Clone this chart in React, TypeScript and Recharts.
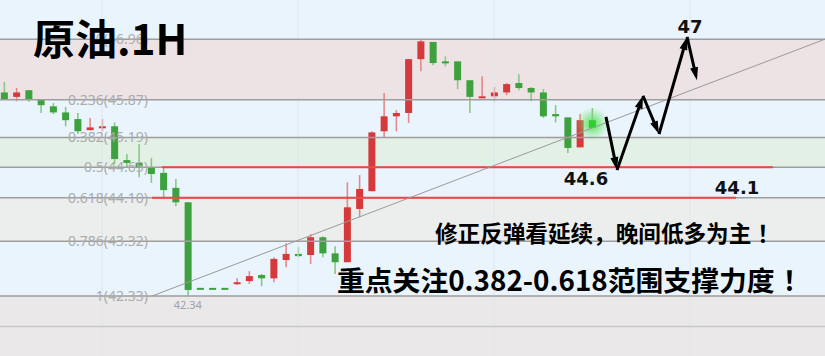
import {
  ComposedChart, Bar, XAxis, YAxis, ReferenceArea, ReferenceLine, ReferenceDot,
} from "recharts";

// hourly candles, oldest first
const opens = [
  46.00, 45.92, 46.04, 45.88, 45.75, 45.64, 45.52, 45.32, 45.37, 45.39,
  44.78, 44.73, 44.65, 44.55, 44.28, 44.02, 42.46, 42.46, 42.46, 42.56,
  42.60, 42.71, 42.65, 42.98, 43.09, 43.07, 43.39, 43.10, 42.94, 43.90,
  44.22, 45.30, 45.57, 45.63, 46.60, 46.91, 46.56, 46.56, 46.22, 45.90,
  45.93, 46.00, 46.17, 46.08, 46.00, 45.61, 45.55, 45.01, 45.50,
];
const closes = [
  45.88, 46.00, 45.88, 45.77, 45.64, 45.50, 45.30, 45.37, 45.39, 44.80,
  44.73, 44.65, 44.53, 44.24, 44.02, 42.44, 42.46, 42.46, 42.46, 42.58,
  42.69, 42.65, 43.00, 43.09, 43.05, 43.39, 43.10, 42.94, 43.93, 44.26,
  45.28, 45.57, 45.63, 46.60, 46.92, 46.53, 46.55, 46.22, 45.92, 45.93,
  46.00, 46.15, 46.08, 46.00, 45.57, 45.57, 45.00, 45.50, 45.36,
];
const highs = [
  46.19, 46.08, 46.04, 45.88, 45.81, 45.74, 45.63, 45.54, 45.52, 45.46,
  44.89, 45.07, 44.82, 44.64, 44.44, 44.02, 42.46, 42.46, 42.46, 42.65,
  42.78, 42.73, 43.03, 43.28, 43.21, 43.45, 43.41, 43.23, 44.38, 44.51,
  45.30, 45.99, 45.68, 46.60, 46.96, 46.91, 46.65, 46.56, 46.22, 46.29,
  46.10, 46.17, 46.33, 46.10, 46.06, 45.77, 45.55, 45.61, 45.72,
];
const lows = [
  45.86, 45.84, 45.83, 45.63, 45.61, 45.39, 45.25, 45.32, 45.30, 44.71,
  44.65, 44.47, 44.37, 44.08, 43.95, 42.34, 42.46, 42.46, 42.46, 42.53,
  42.55, 42.51, 42.58, 42.85, 43.03, 42.91, 43.03, 42.73, 42.94, 43.75,
  44.22, 45.19, 45.30, 45.45, 46.38, 46.49, 46.47, 46.06, 45.63, 45.90,
  45.84, 45.95, 46.04, 45.84, 45.54, 45.46, 44.91, 45.01, 45.36,
];

// fibonacci retracement of the 42.33 -> 46.96 swing
const fibRatios = [0, 0.236, 0.382, 0.5, 0.618, 0.786, 1];
const fibPrices = [46.96, 45.87, 45.19, 44.65, 44.10, 43.32, 42.33];
const extPrice = 41.78;

// support lines (bar index from / to)
const supportPrices = [44.65, 44.10];
const supportFrom = [12.9, 12.08];
const supportTo = [62.78, 59.76];

// rising trend line
const trendX = [12.08, 67.02];
const trendY = [42.33, 46.96];

// projected path
const pathX = [49.14, 50.04, 52.16, 53.47, 55.76, 56.57];
const pathY = [45.56, 44.6, 45.94, 45.25, 47, 46.22];

const gridX = [8, 24, 40, 56];

const Y_DOMAIN: [number, number] = [41.25, 47.666];
const X_DOMAIN: [number, number] = [-0.3265, 67.02];

const bandEdges = [Y_DOMAIN[1], ...fibPrices, Y_DOMAIN[0]];
const bandFills = ["#eaf4fd", "#ede3e5", "#eaf4fd", "#e3f0e5", "#eaf4fd", "#eceeed", "#eaf4fd", "#ebe8e9"];

const RED = "#d6393b";
const RED_WICK = "#e4898b";
const GREEN = "#3da23d";
const GREEN_WICK = "#87c885";

const candles = opens.map((o, i) => ({
  i,
  open: o,
  close: closes[i],
  high: highs[i],
  low: lows[i],
  range: [lows[i], highs[i]],
}));

function Candle(props: any) {
  const { x, y, width, height, payload } = props;
  const { open, close, high, low, i } = payload;
  const top = Math.min(y, y + height);
  const span = Math.abs(height);
  const cx = x + width / 2;
  if (high === low || span === 0) {
    return <rect x={x} y={top - 1} width={width} height={2} fill={GREEN} />;
  }
  const k = span / (high - low);
  const py = (v: number) => top + (high - v) * k;
  const up = close > open;
  const last = i === opens.length - 1;
  const body = last ? "#2fcf2f" : up ? RED : GREEN;
  const wick = up ? RED_WICK : GREEN_WICK;
  const bTop = py(Math.max(open, close));
  const bH = Math.max(2, Math.abs(py(open) - py(close)));
  return (
    <g>
      {last && (
        <g>
          <defs>
            <radialGradient id="lastGlow">
              <stop offset="0%" stopColor="#4ee44e" stopOpacity={0.9} />
              <stop offset="45%" stopColor="#5be45b" stopOpacity={0.55} />
              <stop offset="100%" stopColor="#7eea7e" stopOpacity={0} />
            </radialGradient>
          </defs>
          <circle cx={cx} cy={bTop + bH / 2} r={17} fill="url(#lastGlow)" />
        </g>
      )}
      <line x1={cx} x2={cx} y1={top} y2={top + span} stroke={wick} strokeWidth={1.6} />
      <rect x={x} y={bTop} width={width} height={bH} fill={body} />
    </g>
  );
}

function FibTag({ viewBox, text }: any) {
  if (!viewBox) return null;
  return (
    <text x={148} y={viewBox.y + 5} textAnchor="end" fontSize={14}
      fill="#acacac" fontFamily="Noto Sans, sans-serif">
      {text}
    </text>
  );
}

function Arrow(props: any) {
  const { x1, y1, x2, y2 } = props;
  const dx = x2 - x1;
  const dy = y2 - y1;
  const len = Math.hypot(dx, dy) || 1;
  const ux = dx / len;
  const uy = dy / len;
  const head = 13;
  const half = 4;
  const bx = x2 - ux * head;
  const by = y2 - uy * head;
  return (
    <g>
      <line x1={x1} y1={y1} x2={bx + ux * 2} y2={by + uy * 2} stroke="#000" strokeWidth={3} />
      <polygon
        points={`${x2},${y2} ${bx - uy * half},${by + ux * half} ${bx + uy * half},${by - ux * half}`}
        fill="#000"
      />
    </g>
  );
}

const tagText = (dx: number, dy: number, text: string, size = 18) => (p: any) => (
  <text x={p.cx + dx} y={p.cy + dy} textAnchor="middle" fontSize={size} fontWeight={700}
    fontFamily="DejaVu Sans, sans-serif" fill="#111">
    {text}
  </text>
);

export default function App() {
  return (
    <div style={{ position: "absolute", left: 0, top: 0, width: 825, height: 356, overflow: "hidden", background: "#eaf4fd" }}>
      <ComposedChart width={825} height={356} data={candles} margin={{ top: 0, right: 0, bottom: 0, left: 0 }}>
        <XAxis type="number" dataKey="i" domain={X_DOMAIN} allowDataOverflow hide />
        <YAxis type="number" domain={Y_DOMAIN} allowDataOverflow hide />

        {bandFills.map((fill, k) => (
          <ReferenceArea key={`band${k}`} y1={bandEdges[k + 1]} y2={bandEdges[k]}
            fill={fill} fillOpacity={1} stroke="none" ifOverflow="hidden" />
        ))}
        {gridX.map((g) => (
          <ReferenceLine key={`gx${g}`} x={g} stroke="#dde6ee" strokeWidth={1} />
        ))}

        <Bar dataKey="range" barSize={7} shape={<Candle />} isAnimationActive={false} />

        <ReferenceLine y={extPrice} stroke="#c6c6c6" strokeWidth={1.5} />
        {fibPrices.map((p, k) => (
          <ReferenceLine key={`fib${k}`} y={p} stroke="#9d9d9d" strokeWidth={1.5}
            label={<FibTag text={`${fibRatios[k]}(${p.toFixed(2)})`} />} />
        ))}
        {supportPrices.map((p, k) => (
          <ReferenceLine key={`sup${k}`} segment={[{ x: supportFrom[k], y: p }, { x: supportTo[k], y: p }]}
            stroke="#ee4646" strokeWidth={2} ifOverflow="hidden" />
        ))}
        <ReferenceLine segment={[{ x: trendX[0], y: trendY[0] }, { x: trendX[1], y: trendY[1] }]}
          stroke="#9a9a9a" strokeWidth={1} ifOverflow="hidden" />

        {pathX.slice(1).map((px, k) => (
          <ReferenceLine key={`arr${k}`} ifOverflow="hidden"
            segment={[{ x: pathX[k], y: pathY[k] }, { x: px, y: pathY[k + 1] }]}
            shape={Arrow} />
        ))}

        <ReferenceDot x={pathX[1]} y={pathY[1]} ifOverflow="visible" shape={tagText(-31, 15, "44.6")} />
        <ReferenceDot x={pathX[4]} y={pathY[4]} ifOverflow="visible" shape={tagText(3, -4, "47")} />
        <ReferenceDot x={supportTo[1]} y={supportPrices[1]} ifOverflow="visible" shape={tagText(1, -4, "44.1")} />
        <ReferenceDot x={15} y={lows[15]} ifOverflow="visible"
          shape={(p: any) => (
            <text x={p.cx} y={p.cy + 13} textAnchor="middle" fontSize={11} fill="#a0a0a0"
              fontFamily="Noto Sans, sans-serif">
              {lows[15].toFixed(2)}
            </text>
          )} />
      </ComposedChart>

      <svg width={825} height={356} style={{ position: "absolute", left: 0, top: 0, pointerEvents: "none" }}>
        <g fontFamily="'Noto Sans CJK SC', sans-serif" fontWeight={700} fill="#000">
          <text x={33} y={55} fontSize={42}>原油.1H</text>
          <text x={435} y={242} fontSize={22.6}>
            修正反弹看延续，晚间低多为主<tspan dx={6}>！</tspan>
          </text>
          <text x={337} y={291} fontSize={27.8}>
            重点关注0.382-0.618范围支撑力度<tspan dx={8}>！</tspan>
          </text>
        </g>
      </svg>
    </div>
  );
}
